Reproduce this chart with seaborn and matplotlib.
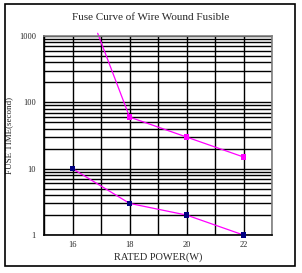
import matplotlib
matplotlib.use("Agg")
import matplotlib.pyplot as plt
import seaborn as sns
import pandas as pd
from matplotlib.patches import Rectangle

sns.set_style("white")
plt.rcParams['font.family'] = ['Liberation Serif', 'DejaVu Serif']

power_a = [16.88, 18, 20, 22]
time_a = [1100, 60, 30, 15]
marker_a = [False, True, True, True]
power_b = [16, 18, 20, 22]
time_b = [10, 3, 2, 1]
xticks = [16, 18, 20, 22]
yticks = [1, 10, 100, 1000]

df_a = pd.DataFrame({"power": power_a, "time": time_a, "mk": marker_a})
df_b = pd.DataFrame({"power": power_b, "time": time_b})

fig = plt.figure(figsize=(3.02, 2.73), dpi=100)
ax = fig.add_axes([0.146, 0.139, 0.755, 0.729])

ax.set_yscale("log")
ax.set_xlim(15, 23)
ax.set_ylim(1, 1000)

sns.lineplot(data=df_a, x="power", y="time", ax=ax, color="#ff00ff", linewidth=0.9,
             sort=False, estimator=None, clip_on=False)
sns.scatterplot(data=df_a[df_a["mk"]], x="power", y="time", ax=ax, color="#ff00ff",
                marker="s", s=16, edgecolor="none", zorder=5, clip_on=False)
sns.lineplot(data=df_b, x="power", y="time", ax=ax, color="#ff00ff", linewidth=0.9,
             sort=False, estimator=None)
sns.scatterplot(data=df_b, x="power", y="time", ax=ax, color="#000080",
                marker="s", s=16, edgecolor="none", zorder=5, clip_on=False)

ax.set_xticks(xticks)
ax.set_xticklabels([str(v) for v in xticks], fontsize=6)
ax.set_xticks([15, 17, 19, 21, 23], minor=True)
ax.set_yticks(yticks)
ax.set_yticklabels([str(v) for v in yticks], fontsize=6)
ax.tick_params(which="both", length=0)
ax.tick_params(axis="x", pad=4)
ax.tick_params(axis="y", pad=6)

ax.grid(True, which="both", axis="both", color="black", linewidth=1.0)
ax.set_axisbelow(True)

for s in ["left", "bottom"]:
    ax.spines[s].set_color("black")
    ax.spines[s].set_linewidth(1.2)
for s in ["top", "right"]:
    ax.spines[s].set_color("#808080")
    ax.spines[s].set_linewidth(1.2)

ax.set_xlabel("RATED POWER(W)", fontsize=7.5, labelpad=3)
ax.set_ylabel("FUSE TIME(second)", fontsize=6.5, labelpad=4)
fig.text(0.5, 0.935, "Fuse Curve of Wire Wound Fusible", ha="center", va="center", fontsize=8)

fig.patches.append(Rectangle((5 / 302, 1 - 266 / 273), 290 / 302, 262 / 273,
                             transform=fig.transFigure, fill=False, edgecolor="black",
                             linewidth=1.2))

fig.savefig("out.png", dpi=100)
